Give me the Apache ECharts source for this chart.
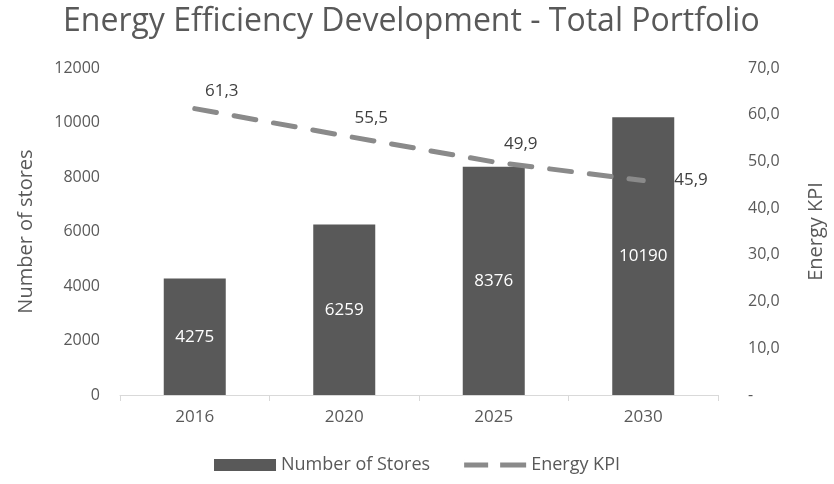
<!DOCTYPE html>
<html>
<head>
<meta charset="utf-8">
<title>Energy Efficiency Development</title>
<style>
  body, html { margin: 0; padding: 0; background: #fff; }
</style>
</head>
<body>
<div id="container" style="width: 834px; height: 484px"></div>
<script src="https://cdn.jsdelivr.net/npm/echarts@6/dist/echarts.min.js"></script>
<script>
var years = ['2016', '2020', '2025', '2030'];
var stores = [4275, 6259, 8376, 10190];
var kpi = [61.3, 55.5, 49.9, 45.9];

var font = 'Open Sans';
var textColor = '#595959';
var lineColor = '#8a8a8a';

function comma(v) { return v.toFixed(1).replace('.', ','); }

// last KPI label sits to the right of its point
var kpiData = kpi.map(function (v, i) {
  if (i === kpi.length - 1) {
    return { value: v, label: { position: 'right', offset: [26, 0] } };
  }
  return v;
});

var chart = echarts.init(document.getElementById('container'));
chart.setOption({
  backgroundColor: '#fff',
  textStyle: { fontFamily: font },
  title: {
    text: 'Energy Efficiency Development - Total Portfolio',
    left: 58,
    top: 1,
    textStyle: { fontSize: 32, fontWeight: 'normal', color: textColor, fontFamily: font }
  },
  legend: {
    bottom: 5,
    left: 'center',
    itemWidth: 62,
    itemHeight: 12,
    itemGap: 34,
    textStyle: { fontSize: 18, color: textColor },
    data: [
      { name: 'Number of Stores', icon: 'rect' },
      {
        name: 'Energy KPI',
        icon: 'path://M0,3.5h24v5h-24z M36,3.5h26v5h-26z M0,0h0.01v12h-0.01z',
        itemStyle: { color: lineColor }
      }
    ]
  },
  grid: { left: 120, right: 114, top: 68, bottom: 89 },
  xAxis: {
    type: 'category',
    data: years,
    axisLine: { lineStyle: { color: '#d9d9d9' } },
    axisTick: { show: true, length: 6, lineStyle: { color: '#d9d9d9' } },
    axisLabel: { fontSize: 17, color: textColor, margin: 14 }
  },
  yAxis: [{
    type: 'value',
    min: 0,
    max: 12000,
    interval: 2000,
    name: 'Number of stores',
    nameLocation: 'middle',
    nameGap: 84,
    nameTextStyle: { fontSize: 20, color: textColor },
    splitLine: { show: false },
    axisLine: { show: false },
    axisTick: { show: false },
    axisLabel: {
      fontSize: 16, color: textColor, margin: 20,
      formatter: function (v) { return String(v); }
    }
  }, {
    type: 'value',
    min: 0,
    max: 70,
    interval: 10,
    name: 'Energy KPI',
    nameLocation: 'middle',
    nameGap: 88,
    nameRotate: 90,
    nameTextStyle: { fontSize: 20, color: textColor },
    splitLine: { show: false },
    axisLine: { show: false },
    axisTick: { show: false },
    axisLabel: {
      fontSize: 16, color: textColor, margin: 30,
      formatter: function (v) { return v === 0 ? '-' : comma(v); }
    }
  }],
  series: [{
    name: 'Number of Stores',
    type: 'bar',
    data: stores,
    barWidth: 62,
    itemStyle: { color: '#595959' },
    label: { show: true, position: 'inside', color: '#fff', fontSize: 17 }
  }, {
    name: 'Energy KPI',
    type: 'line',
    yAxisIndex: 1,
    data: kpiData,
    symbol: 'circle',
    symbolSize: 0,
    showSymbol: true,
    lineStyle: { color: lineColor, width: 5, type: [22, 18], cap: 'round' },
    itemStyle: { color: lineColor },
    label: {
      show: true,
      position: 'top',
      offset: [27, -4],
      color: '#404040',
      fontSize: 17,
      formatter: function (p) { return comma(p.value); }
    }
  }]
});
</script>
</body>
</html>
